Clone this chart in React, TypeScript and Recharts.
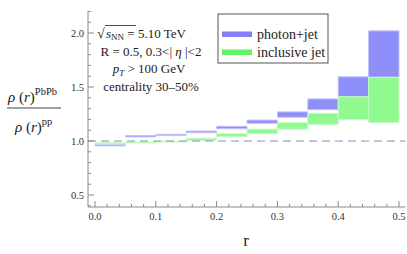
import React from "react";
import { ComposedChart, XAxis, YAxis, ReferenceArea, ReferenceLine, Customized } from "recharts";

// bins in r
const binEdges = [0, 0.05, 0.1, 0.15, 0.2, 0.25, 0.3, 0.35, 0.4, 0.45, 0.5];
// photon+jet band, lower / upper edge per bin
const photonLow = [0.955, 1.038, 1.05, 1.077, 1.114, 1.164, 1.22, 1.29, 1.41, 1.59];
const photonHigh = [0.968, 1.05, 1.062, 1.092, 1.136, 1.194, 1.27, 1.39, 1.595, 2.02];
// inclusive jet band
const inclusiveLow = [0.974, 0.982, 0.99, 1.006, 1.04, 1.07, 1.11, 1.155, 1.2, 1.17];
const inclusiveHigh = [0.984, 0.99, 0.998, 1.025, 1.068, 1.11, 1.17, 1.256, 1.41, 1.59];

const xTicks = [0, 0.1, 0.2, 0.3, 0.4, 0.5];
const yTicks = [0.5, 1.0, 1.5, 2.0];

const serif = "Liberation Serif, Times New Roman, serif";
const frameColor = "#8a8a8a";
const labelColor = "#333";
const photonFill = "#8f8ff9";
const photonEdge = "#c2c2fb";
const inclFill = "#90fa90";
const inclEdge = "#c4fcc4";

const X_DOMAIN = [-0.0115, 0.5107];
const Y_DOMAIN = [0.389, 2.204];

// minor ticks (every 0.02 in r, every 0.1 in ratio)
const xMinor: number[] = [];
for (let i = 0; i <= 25; i++) xMinor.push(+(i * 0.02).toFixed(2));
const xAll = Array.from(new Set([...xMinor, ...xTicks])).sort((a, b) => a - b);
const yAll: number[] = [];
for (let i = 4; i <= 22; i++) yAll.push(+(i * 0.1).toFixed(1));

const near = (list: number[], v: number) => list.some((t) => Math.abs(t - v) < 1e-6);
const txt = { fontFamily: serif };

const BottomTick = ({ x, y, payload }: any) => {
  const major = near(xTicks, payload.value);
  return (
    <g>
      <line x1={x} x2={x} y1={y} y2={y - (major ? 6 : 3)} stroke={frameColor} />
      {major && (
        <text x={x} y={y + 13} textAnchor="middle" fontSize={10.5} style={txt} fill={labelColor}>
          {payload.value.toFixed(1)}
        </text>
      )}
    </g>
  );
};

const TopTick = ({ x, y, payload }: any) => {
  const major = near(xTicks, payload.value);
  return <line x1={x} x2={x} y1={y} y2={y + (major ? 6 : 3)} stroke={frameColor} />;
};

const LeftTick = ({ x, y, payload }: any) => {
  const major = near(yTicks, payload.value);
  return (
    <g>
      <line x1={x} x2={x + (major ? 6 : 3)} y1={y} y2={y} stroke={frameColor} />
      {major && (
        <text x={x - 4} y={y + 3.5} textAnchor="end" fontSize={10.5} style={txt} fill={labelColor}>
          {payload.value.toFixed(1)}
        </text>
      )}
    </g>
  );
};

const RightTick = ({ x, y, payload }: any) => {
  const major = near(yTicks, payload.value);
  return <line x1={x} x2={x - (major ? 6 : 3)} y1={y} y2={y} stroke={frameColor} />;
};

const Annotations = () => (
  <g style={txt} fill="#222">
    {/* sqrt(s_NN) line */}
    <text x={97} y={38} fontSize={14} style={txt}>
      √
    </text>
    <line x1={105} x2={136} y1={25.5} y2={25.5} stroke="#222" strokeWidth={0.8} />
    <text x={106} y={38} fontSize={13} style={txt}>
      <tspan fontStyle="italic">s</tspan>
      <tspan fontSize={9} dy={2}>NN</tspan>
      <tspan dy={-2}>{"  = 5.10 TeV"}</tspan>
    </text>
    <text x={151} y={55.5} fontSize={13} textAnchor="middle" style={txt}>
      R = 0.5, 0.3{"<| "}
      <tspan fontStyle="italic">η</tspan>
      {" |<2"}
    </text>
    <text x={149} y={73} fontSize={13} textAnchor="middle" style={txt}>
      <tspan fontStyle="italic">p</tspan>
      <tspan fontSize={9} fontStyle="italic" dy={2.5}>T</tspan>
      <tspan dy={-2.5}>{" > 100 GeV"}</tspan>
    </text>
    <text x={151} y={90.5} fontSize={13} textAnchor="middle" style={txt}>
      {"centrality  30\u201350%"}
    </text>

    {/* legend */}
    <rect x={218} y={14} width={110} height={49} fill="#fff" stroke="#555" strokeWidth={1} />
    <rect x={222} y={31.5} width={30} height={5.5} fill="#8080f4" />
    <rect x={222} y={49.5} width={30} height={5.5} fill="#66f066" />
    <text x={257} y={39} fontSize={14} style={txt}>
      photon+jet
    </text>
    <text x={257} y={57} fontSize={14} style={txt}>
      inclusive jet
    </text>

    {/* y-axis title as fraction */}
    <text x={8} y={102} fontSize={15} style={txt}>
      <tspan fontStyle="italic">ρ</tspan>
      {" ("}
      <tspan fontStyle="italic">r</tspan>
      {")"}
      <tspan fontSize={10.5} dy={-7}>PbPb</tspan>
    </text>
    <line x1={7} x2={61} y1={108} y2={108} stroke="#444" strokeWidth={1.2} />
    <text x={15} y={132} fontSize={15} style={txt}>
      <tspan fontStyle="italic">ρ</tspan>
      {" ("}
      <tspan fontStyle="italic">r</tspan>
      {")"}
      <tspan fontSize={10.5} dy={-7}>pp</tspan>
    </text>

    {/* x-axis title */}
    <text x={246} y={246} fontSize={17} textAnchor="middle" style={txt}>
      r
    </text>
  </g>
);

export default function App() {
  const bins = binEdges.slice(0, -1).map((lo, i) => ({ lo, hi: binEdges[i + 1] }));

  return (
    <div style={{ position: "absolute", left: 0, top: 0, background: "#fff", fontFamily: serif }}>
      <ComposedChart width={407} height={254} data={bins} margin={{ top: 11, right: 1.5, bottom: 0, left: 0 }}>
        <XAxis
          type="number"
          dataKey="lo"
          domain={X_DOMAIN}
          allowDataOverflow
          ticks={xAll}
          interval={0}
          height={47}
          tickSize={0}
          tickMargin={0}
          tick={<BottomTick />}
          tickLine={false}
          axisLine={{ stroke: frameColor }}
        />
        <XAxis
          xAxisId="top"
          orientation="top"
          type="number"
          domain={X_DOMAIN}
          allowDataOverflow
          ticks={xAll}
          interval={0}
          height={0}
          tickSize={0}
          tickMargin={0}
          tick={<TopTick />}
          tickLine={false}
          axisLine={{ stroke: frameColor }}
        />
        <YAxis
          type="number"
          domain={Y_DOMAIN}
          allowDataOverflow
          ticks={yAll}
          interval={0}
          width={88}
          tickSize={0}
          tickMargin={0}
          tick={<LeftTick />}
          tickLine={false}
          axisLine={{ stroke: frameColor }}
        />
        <YAxis
          yAxisId="right"
          orientation="right"
          type="number"
          domain={Y_DOMAIN}
          allowDataOverflow
          ticks={yAll}
          interval={0}
          width={0}
          tickSize={0}
          tickMargin={0}
          tick={<RightTick />}
          tickLine={false}
          axisLine={{ stroke: frameColor }}
        />

        {bins.map((b, i) => (
          <ReferenceArea
            key={`ph-${i}`}
            x1={b.lo}
            x2={b.hi}
            y1={photonLow[i]}
            y2={photonHigh[i]}
            fill={photonFill}
            fillOpacity={1}
            stroke={photonEdge}
            strokeWidth={1}
          />
        ))}
        {bins.map((b, i) => (
          <ReferenceArea
            key={`in-${i}`}
            x1={b.lo}
            x2={b.hi}
            y1={inclusiveLow[i]}
            y2={inclusiveHigh[i]}
            fill={inclFill}
            fillOpacity={1}
            stroke={inclEdge}
            strokeWidth={1}
          />
        ))}
        <ReferenceLine y={1} stroke="#8c8cc4" strokeWidth={1} strokeDasharray="8 5" />
        <Customized component={Annotations} />
      </ComposedChart>
    </div>
  );
}
